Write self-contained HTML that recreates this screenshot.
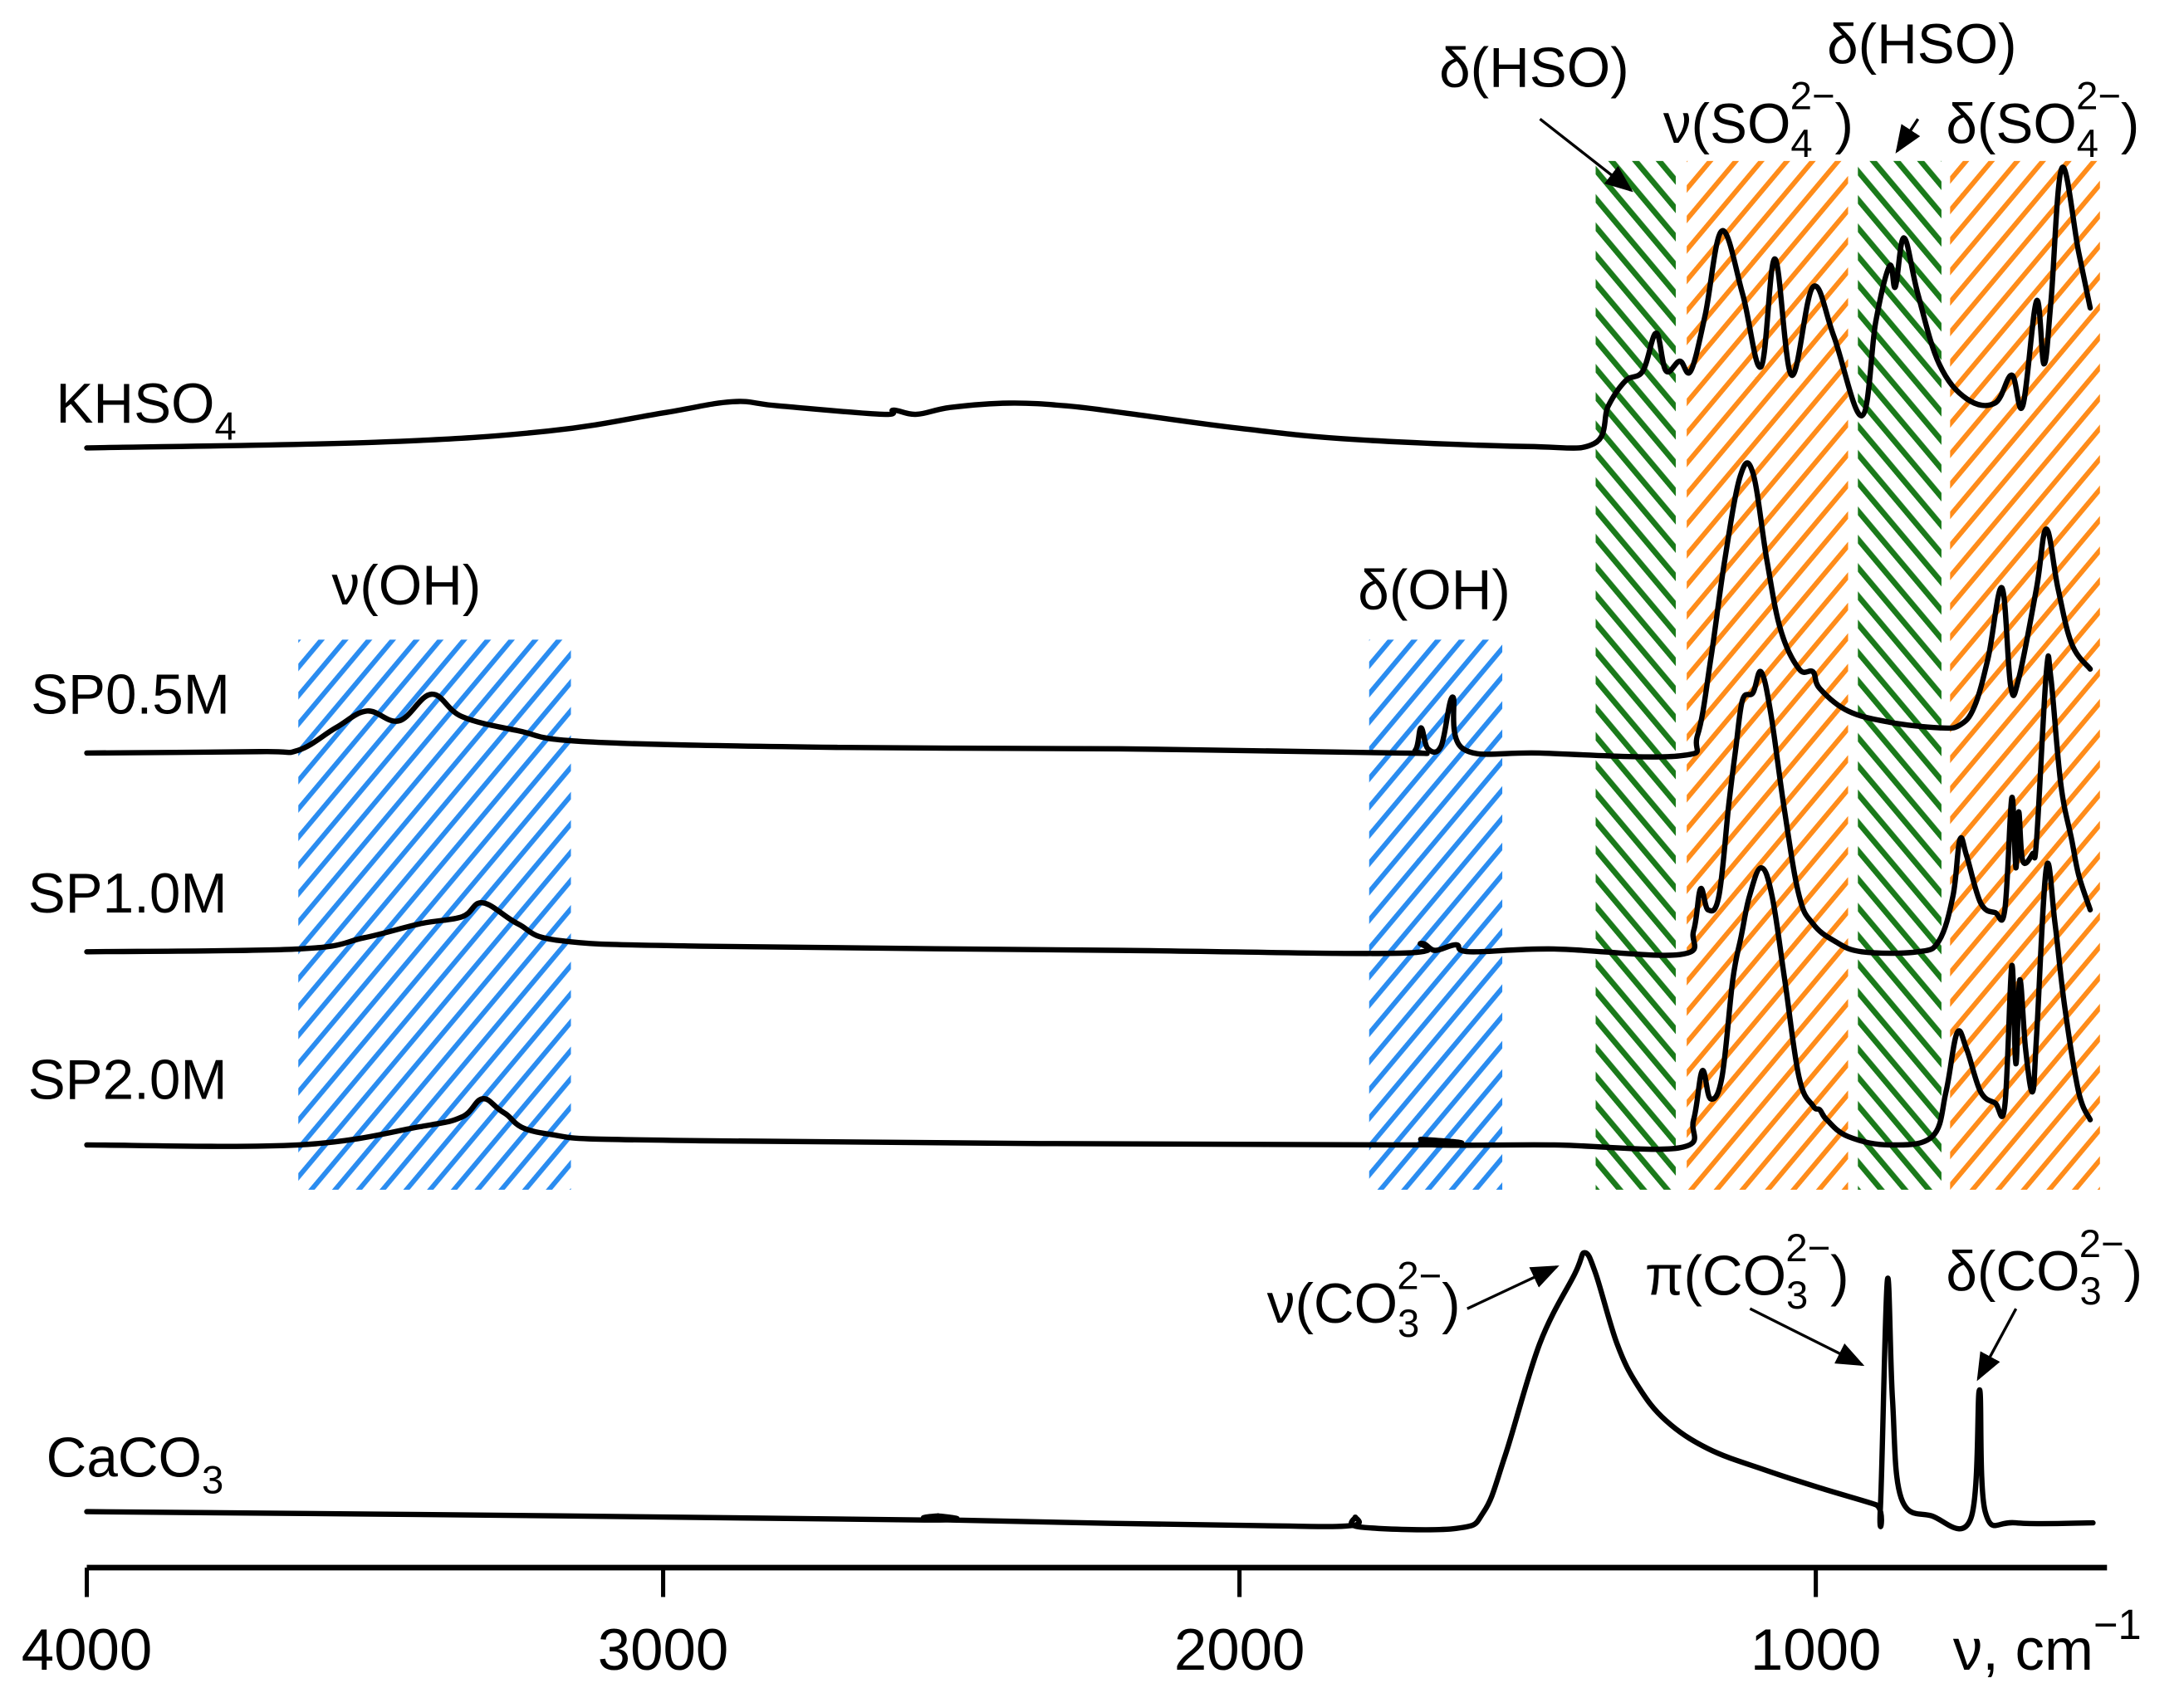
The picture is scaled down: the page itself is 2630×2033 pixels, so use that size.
<!DOCTYPE html>
<html><head><meta charset="utf-8"><style>
html,body{margin:0;padding:0;background:#fff;}
svg{display:block;}
text{font-family:"Liberation Sans",sans-serif;fill:#000;}
</style></head><body>
<svg id="chart" width="2630" height="2033" viewBox="0 0 1560 1206" preserveAspectRatio="none" xmlns="http://www.w3.org/2000/svg">
<defs>
<pattern id="hGreen" patternUnits="userSpaceOnUse" width="13" height="13" patternTransform="rotate(-40)"><rect x="0" y="0" width="4" height="13" fill="#1a7a1a"/></pattern>
<pattern id="hOrange" patternUnits="userSpaceOnUse" width="14" height="14" patternTransform="rotate(40)"><rect x="0" y="0" width="3.5" height="14" fill="#ff8c1a"/></pattern>
<pattern id="hBlue" patternUnits="userSpaceOnUse" width="13" height="13" patternTransform="rotate(40)"><rect x="0" y="0" width="3.5" height="13" fill="#2a8cf0"/></pattern>
<marker id="arr" markerWidth="10" markerHeight="8" refX="9" refY="4" orient="auto" markerUnits="strokeWidth"><path d="M0,0 L10,4 L0,8 z" fill="#000"/></marker>
</defs>
<g id="bands"></g>
<g id="series"></g>
<g id="axis"></g>
<g font-size="40">
<text x="40" y="302">KHSO<tspan font-size="28" dy="12">4</tspan></text>
<text x="22" y="510">SP0.5M</text>
<text x="20" y="652">SP1.0M</text>
<text x="20" y="785">SP2.0M</text>
<text x="33" y="1055">CaCO<tspan font-size="28" dy="12">3</tspan></text>
<text x="237" y="432">ν(OH)</text>
<text x="970" y="435">δ(OH)</text>
<text x="1028" y="62">δ(HSO)</text>
<text x="1188" y="102">ν(SO<tspan font-size="28" dy="10">4</tspan><tspan font-size="28" dx="-16" dy="-34">2−</tspan><tspan dy="24">)</tspan></text>
<text x="1305" y="45">δ(HSO)</text>
<text x="1390" y="102">δ(SO<tspan font-size="28" dy="10">4</tspan><tspan font-size="28" dx="-16" dy="-34">2−</tspan><tspan dy="24">)</tspan></text>
<text x="905" y="945">ν(CO<tspan font-size="28" dy="10">3</tspan><tspan font-size="28" dx="-16" dy="-34">2−</tspan><tspan dy="24">)</tspan></text>
<text x="1175" y="925">π(CO<tspan font-size="28" dy="10">3</tspan><tspan font-size="28" dx="-16" dy="-34">2−</tspan><tspan dy="24">)</tspan></text>
<text x="1390" y="922">δ(CO<tspan font-size="28" dy="10">3</tspan><tspan font-size="28" dx="-16" dy="-34">2−</tspan><tspan dy="24">)</tspan></text>
</g>
<g stroke="#000" stroke-width="2">
<line x1="1100" y1="85" x2="1165" y2="136" marker-end="url(#arr)"/>
<line x1="1370" y1="85" x2="1355" y2="108" marker-end="url(#arr)"/>
<line x1="1048" y1="935" x2="1112" y2="905" marker-end="url(#arr)"/>
<line x1="1250" y1="935" x2="1330" y2="975" marker-end="url(#arr)"/>
<line x1="1440" y1="935" x2="1413" y2="985" marker-end="url(#arr)"/>
</g>
</svg>
<script>
// Wavenumber range of x axis
const xDomain = [4000, 500];
const tickValues = [4000, 3000, 2000, 1000];
const tickLabels = ["4000", "3000", "2000", "1000"];

// Highlight bands [from, to] in cm-1
const bandNames = ["band-v-oh", "band-d-oh", "band-d-hso-1", "band-v-so4", "band-d-hso-2", "band-d-so4"];
const bandFrom = [3633, 1775, 1382, 1224, 927, 767];
const bandTo = [3160, 1544, 1243, 944, 782, 507];
const bandKinds = ["blue", "blue", "green", "orange", "green", "orange"];

// Spectra: wavenumbers and intensities (above each trace's baseline)
const seriesNames = ["khso4", "sp05m", "sp10m", "sp20m", "caco3"];
const seriesOffsets = [320, 538, 680, 818, 1090];
const khso4W = [4000,3500,3200,3000,2880,2800,2620,2600,2560,2500,2400,2300,2200,2000,1800,1500,1385,1360,1330,1300,1277,1260,1236,1217,1192,1163,1127,1095,1071,1042,1005,969,920,896,872,862,847,823,786,738,689,660,641,617,604,592,573,544,524];
const khso4I = [0,4,12,25,33,30,24,27,24,29,32,30,25,14,6,1,3,30,48,55,82,55,62,55,95,155,110,58,135,52,115,80,23,90,130,115,150,110,60,35,32,52,30,105,60,105,200,140,100];
const sp05W = [4000,3700,3633,3568,3514,3458,3402,3349,3252,3130,2693,2207,1722,1695,1685,1673,1650,1630,1612,1479,1236,1205,1182,1158,1131,1109,1085,1061,1029,1005,993,944,872,786,750,725,701,677,662,648,617,600,580,556,524];
const sp05I = [0,1,2,18,30,23,42,26,16,8,4,3,0,2,18,3,5,40,3,0,-2,13,68,138,198,200,138,88,60,58,46,30,22,18,20,33,68,118,48,53,118,160,118,78,60];
const sp10W = [4000,3633,3519,3422,3349,3313,3252,3179,2936,2207,1722,1685,1661,1624,1600,1454,1236,1212,1200,1187,1168,1151,1139,1127,1109,1095,1078,1054,1029,1005,969,920,823,786,762,750,738,714,689,672,660,653,648,641,624,617,600,592,575,556,544,524];
const sp10I = [0,2,10,20,25,35,20,8,4,1,-1,6,1,5,0,2,-2,15,45,30,40,105,145,180,185,200,170,100,40,20,8,0,0,8,40,80,68,35,28,30,110,60,100,65,70,80,200,195,120,80,55,30];
const sp20W = [4000,3633,3422,3349,3313,3276,3203,2936,1722,1685,1661,1454,1236,1212,1197,1183,1163,1144,1129,1115,1095,1076,1054,1029,1005,993,981,944,872,798,774,755,738,714,689,672,660,653,646,636,624,617,600,585,568,544,524];
const sp20I = [0,0,13,20,33,23,8,3,0,4,0,0,-2,18,53,33,48,118,150,178,198,178,118,48,28,25,18,6,0,6,38,80,68,38,30,28,128,58,118,68,38,78,198,158,98,38,18];
const caco3W = [4000,3179,2547,2523,2499,1965,1807,1799,1790,1624,1576,1539,1479,1418,1401,1382,1345,1309,1260,1187,1090,993,896,888,876,867,852,799,731,716,706,653,519];
const caco3I = [10,7,4,7,4,0,0,6,-1,-2,10,50,130,180,195,180,130,100,75,55,40,27,15,12,175,90,20,7,5,97,10,2,2];
const seriesW = [khso4W, sp05W, sp10W, sp20W, caco3W];
const seriesI = [khso4I, sp05I, sp10I, sp20I, caco3I];

const NS = "http://www.w3.org/2000/svg";
const xLeft = 62, xRight = 62 + 3500 * 0.41167;
function xScale(w) { return xLeft + (xDomain[0] - w) / (xDomain[0] - xDomain[1]) * (xRight - xLeft); }
function yScale(v, off) { return off - v; }

const bands = document.getElementById("bands");
for (let i = 0; i < bandFrom.length; i++) {
  const r = document.createElementNS(NS, "rect");
  const x0 = xScale(bandFrom[i]), x1 = xScale(bandTo[i]);
  const top = bandKinds[i] === "blue" ? 457 : 115;
  r.setAttribute("x", x0); r.setAttribute("y", top);
  r.setAttribute("width", x1 - x0); r.setAttribute("height", 850 - top);
  r.setAttribute("fill", bandKinds[i] === "blue" ? "url(#hBlue)" : bandKinds[i] === "green" ? "url(#hGreen)" : "url(#hOrange)");
  
  
  bands.appendChild(r);
}

function smoothPath(pts) {
  let d = "M" + pts[0][0].toFixed(1) + "," + pts[0][1].toFixed(1);
  const t = 0.18;
  for (let k = 0; k < pts.length - 1; k++) {
    const p0 = pts[Math.max(0, k - 1)], p1 = pts[k], p2 = pts[k + 1], p3 = pts[Math.min(pts.length - 1, k + 2)];
    const c1x = p1[0] + (p2[0] - p0[0]) * t, c1y = p1[1] + (p2[1] - p0[1]) * t;
    const c2x = p2[0] - (p3[0] - p1[0]) * t, c2y = p2[1] - (p3[1] - p1[1]) * t;
    d += "C" + c1x.toFixed(1) + "," + c1y.toFixed(1) + " " + c2x.toFixed(1) + "," + c2y.toFixed(1) + " " + p2[0].toFixed(1) + "," + p2[1].toFixed(1);
  }
  return d;
}

const sg = document.getElementById("series");
for (let s = 0; s < seriesNames.length; s++) {
  const W = seriesW[s], I = seriesI[s];
  const pts = [];
  for (let k = 0; k < W.length; k++) pts.push([xScale(W[k]), yScale(I[k], seriesOffsets[s])]);
  const p = document.createElementNS(NS, "path");
  p.setAttribute("d", smoothPath(pts));
  p.setAttribute("fill", "none");
  p.setAttribute("stroke", "#000");
  p.setAttribute("stroke-width", "3.8");
  p.setAttribute("stroke-linejoin", "round");
  p.setAttribute("stroke-linecap", "round");
  
  
  sg.appendChild(p);
}

const ax = document.getElementById("axis");
const line = document.createElementNS(NS, "line");
line.setAttribute("x1", xLeft); line.setAttribute("x2", 1505);
line.setAttribute("y1", 1120); line.setAttribute("y2", 1120);
line.setAttribute("stroke", "#000"); line.setAttribute("stroke-width", "4");


ax.appendChild(line);
for (let i = 0; i < tickValues.length; i++) {
  const x = xScale(tickValues[i]);
  const t = document.createElementNS(NS, "line");
  t.setAttribute("x1", x); t.setAttribute("x2", x);
  t.setAttribute("y1", 1120); t.setAttribute("y2", 1141);
  t.setAttribute("stroke", "#000"); t.setAttribute("stroke-width", "3");
  
  
  ax.appendChild(t);
  const tx = document.createElementNS(NS, "text");
  tx.setAttribute("x", x); tx.setAttribute("y", 1193);
  tx.setAttribute("text-anchor", "middle"); tx.setAttribute("font-size", "42");
  tx.textContent = tickLabels[i];
  
  
  ax.appendChild(tx);
}
const title = document.createElementNS(NS, "text");
title.setAttribute("x", 1395); title.setAttribute("y", 1193); title.setAttribute("font-size", "42");
title.innerHTML = 'ν, cm<tspan font-size="30" dy="-22">−1</tspan>';


ax.appendChild(title);
</script>
</body></html>
